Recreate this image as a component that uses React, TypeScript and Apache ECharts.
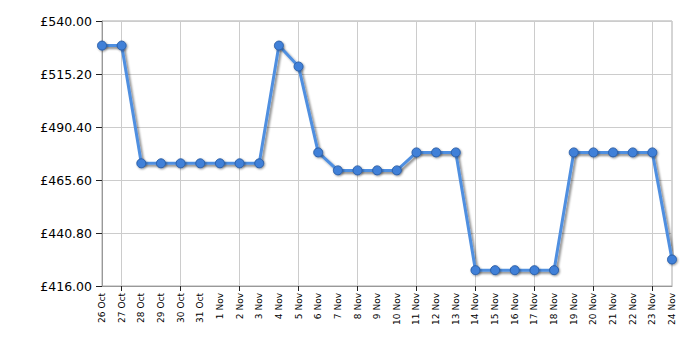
import React, { useEffect, useRef } from "react";
import * as echarts from "echarts";

const categories = [
  "26 Oct", "27 Oct", "28 Oct", "29 Oct", "30 Oct", "31 Oct", "1 Nov", "2 Nov", "3 Nov", "4 Nov",
  "5 Nov", "6 Nov", "7 Nov", "8 Nov", "9 Nov", "10 Nov", "11 Nov", "12 Nov", "13 Nov", "14 Nov",
  "15 Nov", "16 Nov", "17 Nov", "18 Nov", "19 Nov", "20 Nov", "21 Nov", "22 Nov", "23 Nov", "24 Nov",
];
const prices = [
  528.5, 528.5, 473.4, 473.4, 473.4, 473.4, 473.4, 473.4, 473.4, 528.5,
  518.7, 478.5, 470.1, 470.1, 470.1, 470.1, 478.5, 478.5, 478.5, 423.4,
  423.4, 423.4, 423.4, 423.4, 478.5, 478.5, 478.5, 478.5, 478.5, 428.4,
];
const yMin = 416;
const yMax = 540;
const yStep = 24.8;

export default function App() {
  const ref = useRef<HTMLDivElement>(null);
  useEffect(() => {
    if (!ref.current) return;
    const chart = echarts.init(ref.current, null, { renderer: "svg" });
    const every3 = (i: number) => i % 3 === 1;
    chart.setOption({
      animation: false,
      grid: { left: 102, right: 28, top: 21, bottom: 64, show: true, borderColor: "#aaaaaa", borderWidth: 1 },
      xAxis: {
        type: "category",
        data: categories,
        boundaryGap: false,
        axisLine: { lineStyle: { color: "#999999" } },
        axisTick: { show: true, interval: every3, length: 5, lineStyle: { color: "#222222" } },
        axisLabel: {
          interval: 0,
          rotate: 90,
          fontFamily: "DejaVu Sans",
          fontSize: 9,
          color: "#000000",
          margin: 7,
        },
        splitLine: { show: true, interval: every3, lineStyle: { color: "#cccccc" } },
      },
      yAxis: {
        type: "value",
        min: yMin,
        max: yMax,
        interval: yStep,
        axisLine: { show: true, lineStyle: { color: "#999999" } },
        axisTick: { show: true, length: 6, lineStyle: { color: "#222222" } },
        axisLabel: {
          fontFamily: "DejaVu Sans",
          fontSize: 12.5,
          color: "#000000",
          margin: 10,
          formatter: (v: number) => "£" + v.toFixed(2),
        },
        splitLine: { show: true, lineStyle: { color: "#cccccc" } },
      },
      series: [
        {
          type: "line",
          data: prices,
          symbol: "circle",
          symbolSize: 9,
          lineStyle: {
            color: "#4f8fe0",
            width: 3,
            shadowColor: "rgba(0,0,0,0.45)",
            shadowBlur: 2,
            shadowOffsetX: 2,
            shadowOffsetY: 2,
          },
          itemStyle: {
            color: "#3f80d8",
            borderColor: "#2a5ea8",
            borderWidth: 1,
            shadowColor: "rgba(0,0,0,0.4)",
            shadowBlur: 2,
            shadowOffsetX: 1,
            shadowOffsetY: 1,
          },
        },
      ],
    });
    return () => chart.dispose();
  }, []);
  return <div ref={ref} style={{ width: 700, height: 350, marginLeft: -8, marginTop: -8 }} />;
}
